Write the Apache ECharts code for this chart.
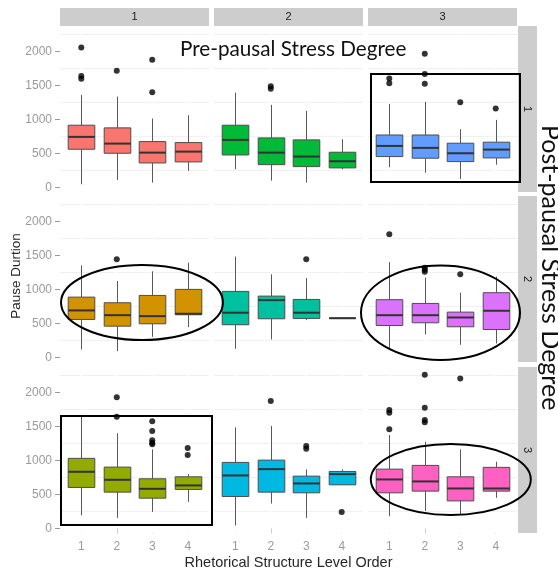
<!DOCTYPE html>
<html>
<head>
<meta charset="utf-8">
<script src="https://cdn.jsdelivr.net/npm/echarts@6/dist/echarts.min.js"></script>
<style>html,body{margin:0;padding:0;background:#fff;}#chart{width:558px;height:573px;}</style>
</head>
<body>
<div id="chart"></div>
<script>
// ---- data ----
const levels = [1, 2, 3, 4];
const yTicks = [0, 500, 1000, 1500, 2000];
const yMinorBreaks = [250, 750, 1250, 1750, 2250];
const preStress = ['1', '2', '3'];   // columns
const postStress = ['1', '2', '3'];  // rows
// box stats per level: [lowerWhisker, Q1, median, Q3, upperWhisker]
const stats_r1c1 = [[44,560,742,914,1361],[108,501,643,875,1336],[68,358,510,673,1012],[240,373,525,658,1062]];
const stats_r1c2 = [[265,476,698,914,1395],[98,333,510,727,1214],[68,304,452,698,1125],[265,285,383,516,708]];
const stats_r1c3 = [[295,452,609,770,1229],[215,428,580,770,1258],[122,378,501,649,855],[333,432,555,664,993]];
const stats_r2c1 = [[114,557,690,886,1354],[89,458,620,803,1123],[301,493,606,911,1266],[443,626,641,1000,1394]];
const stats_r2c2 = [[124,479,656,970,1483],[261,567,842,901,1222],[547,572,656,852,1167],[575,575,575,575,575]];
const stats_r2c3 = [[124,468,620,848,1403],[335,508,620,793,1173],[183,449,586,665,951],[202,409,685,951,1188]];
const stats_r3c1 = [[192,601,832,1030,1660],[152,532,714,901,1399],[241,443,581,729,1162],[389,572,631,758,798]];
const stats_r3c2 = [[40,468,778,970,1487],[364,532,871,1004,1507],[152,522,660,768,867],[640,640,798,837,867]];
const stats_r3c3 = [[177,522,719,871,1374],[256,547,690,926,1275],[207,403,586,758,1162],[448,547,586,897,980]];
// outliers: [level, value]
const out_r1c1 = [[1,2059],[1,1640],[1,1600],[2,1715],[3,1878],[3,1401]];
const out_r1c2 = [[2,1490],[2,1450]];
const out_r1c3 = [[1,1602],[1,1534],[2,1966],[2,1667],[2,1524],[3,1254],[4,1159]];
const out_r2c1 = [[2,1443]];
const out_r2c2 = [[3,1443]];
const out_r2c3 = [[1,1812],[2,1320],[2,1290],[2,1260],[3,1222]];
const out_r3c1 = [[2,1930],[2,1644],[3,1576],[3,1433],[3,1295],[3,1260],[3,1236],[4,1182],[4,1078]];
const out_r3c2 = [[2,1876],[3,1211],[3,1172],[4,241]];
const out_r3c3 = [[1,1743],[1,1703],[1,1458],[2,2260],[2,1777],[2,1595],[2,1561],[3,2206]];
const fills = ['#F8766D','#00BA38','#619CFF','#D39200','#00C19F','#DB72FB','#93AA00','#00B9E3','#FF61C3'];

// ---- layout ----
const statsGrid = [[stats_r1c1,stats_r1c2,stats_r1c3],[stats_r2c1,stats_r2c2,stats_r2c3],[stats_r3c1,stats_r3c2,stats_r3c3]];
const outGrid = [[out_r1c1,out_r1c2,out_r1c3],[out_r2c1,out_r2c2,out_r2c3],[out_r3c1,out_r3c2,out_r3c3]];
const colLeft = [60, 214, 368];
const rowTop = [26, 196, 367];
const PW = 149, PH = 166;
const labelFont = 'Liberation Sans, Arial, sans-serif';

const grids = [], xAxes = [], yAxes = [], series = [];
let idx = 0;
for (let r = 0; r < 3; r++) {
  for (let c = 0; c < 3; c++) {
    grids.push({left: colLeft[c], top: rowTop[r], width: PW, height: PH, containLabel: false});
    xAxes.push({
      type: 'value', gridIndex: idx, min: 0.4, max: 4.6,
      axisLine: {show: false}, splitLine: {show: false},
      axisTick: {show: r === 2, length: 5, lineStyle: {color: '#9a9a9a'}, customValues: levels},
      axisLabel: {show: r === 2, customValues: levels, margin: 8, color: '#9a9a9a', fontSize: 12, fontFamily: labelFont,
        formatter: v => String(v)}
    });
    yAxes.push({
      type: 'value', gridIndex: idx, min: -70, max: 2376,
      axisLine: {show: false}, splitLine: {show: false},
      axisTick: {show: c === 0, length: 5, lineStyle: {color: '#9a9a9a'}, customValues: yTicks},
      axisLabel: {show: c === 0, customValues: yTicks, margin: 8, color: '#9a9a9a', fontSize: 12, fontFamily: labelFont,
        formatter: v => String(v)}
    });
    // minor grid lines
    series.push({
      type: 'custom', xAxisIndex: idx, yAxisIndex: idx, silent: true, z: 0,
      data: yMinorBreaks.map(v => [1, v]),
      encode: {x: 0, y: 1},
      renderItem: function (params, api) {
        const cs = params.coordSys;
        const y = api.coord([1, api.value(1)])[1];
        return {type: 'line', shape: {x1: cs.x, y1: y, x2: cs.x + cs.width, y2: y},
          style: {stroke: '#efefef', lineWidth: 1}};
      }
    });
    // major vertical (white) lines
    series.push({
      type: 'custom', xAxisIndex: idx, yAxisIndex: idx, silent: true, z: 1,
      data: levels.map(l => [l, 0]),
      encode: {x: 0, y: 1},
      renderItem: function (params, api) {
        const cs = params.coordSys;
        const x = api.coord([api.value(0), 0])[0];
        return {type: 'line', shape: {x1: x, y1: cs.y, x2: x, y2: cs.y + cs.height},
          style: {stroke: '#ffffff', lineWidth: 1.5}};
      }
    });
    // boxes
    const st = statsGrid[r][c];
    series.push({
      type: 'custom', xAxisIndex: idx, yAxisIndex: idx, z: 2,
      itemStyle: {color: fills[idx]},
      data: st.map((s, i) => [levels[i]].concat(s)),
      encode: {x: 0, y: [1, 2, 3, 4, 5]},
      renderItem: function (params, api) {
        const x = api.value(0);
        const lo = api.coord([x, api.value(1)]);
        const q1 = api.coord([x, api.value(2)]);
        const md = api.coord([x, api.value(3)]);
        const q3 = api.coord([x, api.value(4)]);
        const hi = api.coord([x, api.value(5)]);
        const w = api.size([0.75, 0])[0];
        const cx = Math.round(lo[0]) + 0.5;
        const col = api.visual('color');
        return {type: 'group', children: [
          {type: 'line', shape: {x1: cx, y1: hi[1], x2: cx, y2: q3[1]}, style: {stroke: '#595959', lineWidth: 1}},
          {type: 'line', shape: {x1: cx, y1: q1[1], x2: cx, y2: lo[1]}, style: {stroke: '#595959', lineWidth: 1}},
          {type: 'rect', shape: {x: cx - w / 2, y: q3[1], width: w, height: q1[1] - q3[1]},
            style: {fill: col, stroke: '#4d4d4d', lineWidth: 1}},
          {type: 'line', shape: {x1: cx - w / 2, y1: md[1], x2: cx + w / 2, y2: md[1]}, style: {stroke: '#333333', lineWidth: 2}}
        ]};
      }
    });
    // outliers
    series.push({
      type: 'scatter', xAxisIndex: idx, yAxisIndex: idx, z: 3,
      symbol: 'circle', symbolSize: 6,
      itemStyle: {color: '#000000'},
      data: outGrid[r][c]
    });
    idx++;
  }
}

// ---- strips, titles, annotations ----
const graphic = [];
const stripColor = '#cdcdcd';
for (let c = 0; c < 3; c++) {
  graphic.push({type: 'rect', shape: {x: colLeft[c], y: 8, width: PW, height: 18}, style: {fill: stripColor}, z: 10});
  graphic.push({type: 'text', x: colLeft[c] + PW / 2, y: 17, z: 11,
    style: {text: preStress[c], fill: '#1a1a1a', font: '11px Liberation Sans, Arial, sans-serif', align: 'center', verticalAlign: 'middle'}});
}
for (let r = 0; r < 3; r++) {
  graphic.push({type: 'rect', shape: {x: 518, y: rowTop[r], width: 19, height: PH}, style: {fill: stripColor}, z: 10});
  graphic.push({type: 'text', x: 527.5, y: rowTop[r] + PH / 2, rotation: -Math.PI / 2, z: 11,
    style: {text: postStress[r], fill: '#1a1a1a', font: '11px Liberation Sans, Arial, sans-serif', align: 'center', verticalAlign: 'middle'}});
}
graphic.push({type: 'text', x: 288.5, y: 563, z: 11,
  style: {text: 'Rhetorical Structure Level Order', fill: '#262626', font: '14.5px Liberation Sans, Arial, sans-serif', align: 'center', verticalAlign: 'middle'}});
graphic.push({type: 'text', x: 16, y: 276, rotation: Math.PI / 2, z: 11,
  style: {text: 'Pause Durtion', fill: '#262626', font: '13.5px Liberation Sans, Arial, sans-serif', align: 'center', verticalAlign: 'middle'}});
graphic.push({type: 'text', x: 180, y: 49, z: 20,
  style: {text: 'Pre-pausal Stress Degree', fill: '#111111', font: '20.7px Lato, sans-serif', align: 'left', verticalAlign: 'middle'}});
graphic.push({type: 'text', x: 550, y: 125, rotation: -Math.PI / 2, z: 20,
  style: {text: 'Post-pausal Stress Degree', fill: '#111111', font: '25px Lato, sans-serif', align: 'left', verticalAlign: 'middle'}});
const ann = {fill: 'none', stroke: '#000000', lineWidth: 2};
graphic.push({type: 'rect', shape: {x: 371, y: 74, width: 149, height: 108}, style: ann, z: 30});
graphic.push({type: 'rect', shape: {x: 61, y: 416, width: 151, height: 109}, style: ann, z: 30});
graphic.push({type: 'ellipse', shape: {cx: 142, cy: 302.5, rx: 81, ry: 37.5}, style: ann, z: 30});
graphic.push({type: 'ellipse', shape: {cx: 440.5, cy: 312.7, rx: 79.5, ry: 47.3}, style: ann, z: 30});
graphic.push({type: 'ellipse', shape: {cx: 450.8, cy: 479.5, rx: 80, ry: 35.5}, style: ann, z: 30});

const chart = echarts.init(document.getElementById('chart'), null, {renderer: 'canvas'});
chart.setOption({
  backgroundColor: '#ffffff',
  animation: false,
  grid: grids, xAxis: xAxes, yAxis: yAxes, series: series,
  graphic: graphic
});
</script>
</body>
</html>
